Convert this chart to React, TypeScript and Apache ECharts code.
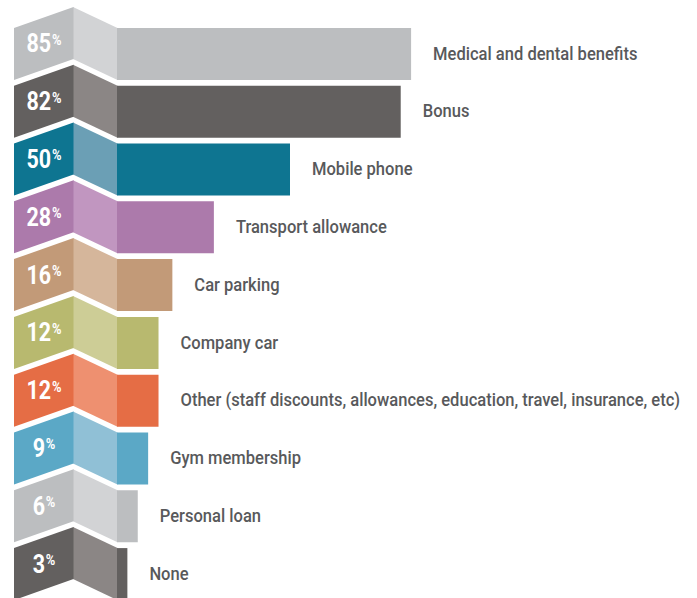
import React, { useEffect, useRef } from "react";
import * as echarts from "echarts";

const categories = [
  "Medical and dental benefits",
  "Bonus",
  "Mobile phone",
  "Transport allowance",
  "Car parking",
  "Company car",
  "Other (staff discounts, allowances, education, travel, insurance, etc)",
  "Gym membership",
  "Personal loan",
  "None",
];
const values = [85, 82, 50, 28, 16, 12, 12, 9, 6, 3];
const barColors = [
  "#bcbec0", "#63605f", "#0e7591", "#ac7aab", "#c29a78",
  "#b8b96f", "#e56d45", "#5ba8c6", "#bcbec0", "#63605f",
];
const foldColors = [
  "#d2d3d5", "#8b8685", "#6b9fb5", "#c196c0", "#d5b69b",
  "#cdcd96", "#ee9070", "#90c0d6", "#d2d3d5", "#8b8685",
];

const FONT = "Roboto, 'Liberation Sans', sans-serif";

export default function App() {
  const ref = useRef<HTMLDivElement>(null);
  useEffect(() => {
    if (!ref.current) return;
    const chart = echarts.init(ref.current, undefined, { renderer: "svg" });
    chart.setOption({
      animation: false,
      backgroundColor: "#ffffff",
      grid: { left: 117, top: 25, width: 346, height: 578, outerBoundsMode: "none" },
      xAxis: { type: "value", min: 0, max: 100, show: false },
      yAxis: { type: "category", data: categories, inverse: true, show: false },
      series: [
        {
          type: "bar",
          barWidth: "90%",
          data: values.map((v, i) => ({ value: v, itemStyle: { color: barColors[i] } })),
        },
        {
          type: "custom",
          clip: false,
          data: values.map((v, i) => [v, i]),
          encode: { x: 0, y: 1 },
          renderItem: (params: any, api: any) => {
            const i = api.value(1);
            const v = api.value(0);
            const p = api.coord([0, i]);
            const pe = api.coord([v, i]);
            const band = api.size([0, 1])[1];
            const x0 = p[0];
            const yc = p[1];
            const h = (band * 0.9) / 2;
            const r = 21;
            const wf = 44;
            const wl = 59;
            return {
              type: "group",
              children: [
                {
                  type: "polygon",
                  shape: {
                    points: [
                      [x0 - wf, yc - h - r],
                      [x0 + 0.5, yc - h],
                      [x0 + 0.5, yc + h],
                      [x0 - wf, yc + h - r],
                    ],
                  },
                  style: { fill: foldColors[i] },
                },
                {
                  type: "polygon",
                  shape: {
                    points: [
                      [x0 - wf - wl, yc - h],
                      [x0 - wf + 0.5, yc - h - r],
                      [x0 - wf + 0.5, yc + h - r],
                      [x0 - wf - wl, yc + h],
                    ],
                  },
                  style: { fill: barColors[i] },
                },
                {
                  type: "text",
                  x: x0 - 73,
                  y: yc - 10,
                  scaleX: 0.86,
                  style: {
                    text: `{a|${v}}{b|%}`,
                    align: "center",
                    verticalAlign: "middle",
                    fill: "#ffffff",
                    rich: {
                      a: { fontSize: 25, fontWeight: "bold", fontFamily: FONT, fill: "#ffffff", lineHeight: 24 },
                      b: { fontSize: 15, fontWeight: "bold", fontFamily: FONT, fill: "#ffffff", verticalAlign: "top", lineHeight: 14, padding: [0, 0, 0, 1] },
                    },
                  },
                },
                {
                  type: "text",
                  x: pe[0] + 22,
                  y: yc - 0.5,
                  scaleX: 0.92,
                  style: {
                    text: categories[i],
                    align: "left",
                    verticalAlign: "middle",
                    fill: "#58595b",
                    fontSize: 18,
                    fontWeight: 500,
                    fontFamily: FONT,
                  },
                },
              ],
            };
          },
        },
      ],
    });
    return () => chart.dispose();
  }, []);
  return (
    <div
      ref={ref}
      style={{ position: "absolute", left: 0, top: 0, width: 697, height: 598 }}
    />
  );
}
